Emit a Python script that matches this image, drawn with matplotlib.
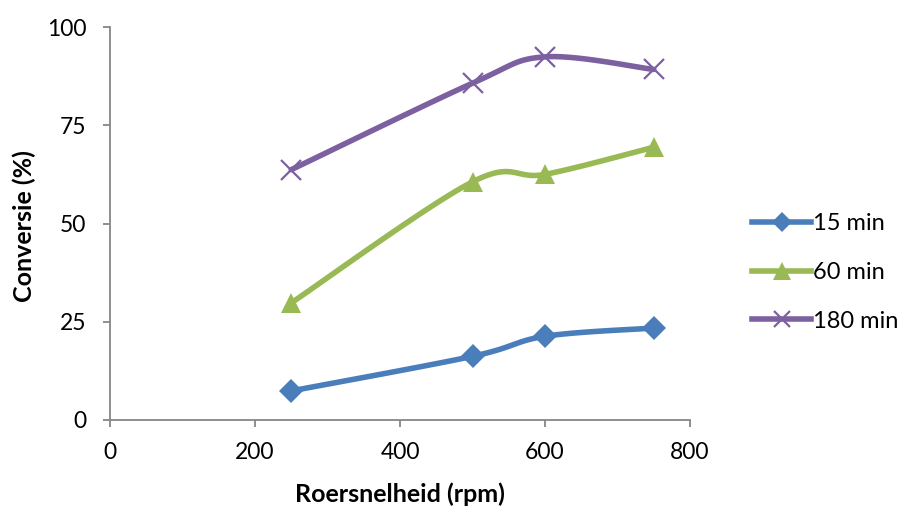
import numpy as np
import matplotlib.pyplot as plt

# Roersnelheid (rpm) en conversie (%) per reactietijd
rpm = [250, 500, 600, 750]
conv_15 = [7.4, 16.2, 21.3, 23.4]
conv_60 = [29.8, 60.6, 62.5, 69.4]
conv_180 = [63.7, 85.7, 92.4, 89.2]

series = [
    ('15 min', conv_15, '#4A7EBB', 'D', 12),
    ('60 min', conv_60, '#98B954', '^', 15),
    ('180 min', conv_180, '#7D60A0', 'x', 14),
]

XMIN, XMAX, YMIN, YMAX = 0, 800, 0, 100
AX_W, AX_H = 580, 393  # plot area in pixels


def smooth(xs, ys, n=40):
    # Catmull-Rom spline through the points, computed in screen-like space
    sx = (XMAX - XMIN) / AX_W
    sy = (YMAX - YMIN) / AX_H
    p = np.column_stack([np.asarray(xs) / sx, np.asarray(ys) / sy])
    p = np.vstack([p[0], p, p[-1]])
    out = []
    for i in range(1, len(p) - 2):
        p0, p1, p2, p3 = p[i - 1], p[i], p[i + 1], p[i + 2]
        c1 = p1 + (p2 - p0) / 6.0
        c2 = p2 - (p3 - p1) / 6.0
        t = np.linspace(0, 1, n)[:, None]
        b = ((1 - t) ** 3) * p1 + 3 * ((1 - t) ** 2) * t * c1 \
            + 3 * (1 - t) * t ** 2 * c2 + t ** 3 * p2
        out.append(b if i == 1 else b[1:])
    out = np.vstack(out)
    return out[:, 0] * sx, out[:, 1] * sy


fig = plt.figure(figsize=(8.98, 5.07), dpi=100)
ax = fig.add_axes([110 / 898, (507 - 420) / 507, AX_W / 898, AX_H / 507])

font = 'Lato'
for label, ys, color, marker, ms in series:
    cx, cy = smooth(rpm, ys)
    ax.plot(cx, cy, color=color, linewidth=4, solid_capstyle='round', zorder=2)
    mew = 1.6 if marker == 'x' else 0
    ax.plot(rpm, ys, linestyle='none', marker=marker, markersize=ms,
            color=color, markeredgewidth=mew, markeredgecolor=color, zorder=3)
    # legend proxy
    ax.plot([], [], color=color, linewidth=4, marker=marker, markersize=ms * 0.85,
            markeredgewidth=mew, markeredgecolor=color, label=label)

ax.set_xlim(XMIN, XMAX)
ax.set_ylim(YMIN, YMAX)
ax.set_xticks([0, 200, 400, 600, 800])
ax.set_yticks([0, 25, 50, 75, 100])

for side in ['top', 'right']:
    ax.spines[side].set_visible(False)
for side in ['left', 'bottom']:
    ax.spines[side].set_color('#868686')
    ax.spines[side].set_linewidth(1.3)
ax.tick_params(axis='both', colors='#868686', length=5, width=1.3,
               labelcolor='black', labelsize=16.5)
ax.tick_params(axis='y', pad=12)
ax.tick_params(axis='x', pad=11)
for t in ax.get_xticklabels() + ax.get_yticklabels():
    t.set_fontfamily(font)

fig.text(400 / 898, 1 - 494 / 507, 'Roersnelheid (rpm)', ha='center', va='center',
         fontsize=18, fontweight='bold', family=font)
fig.text(24 / 898, 1 - 226 / 507, 'Conversie (%)', ha='center', va='center',
         rotation=90, fontsize=18, fontweight='bold', family=font)

leg = fig.legend(loc='upper left', bbox_to_anchor=(752 / 898, 1 - 213 / 507),
                 frameon=False, prop={'family': font, 'size': 17},
                 handlelength=2.5, handletextpad=0.1, labelspacing=1.18,
                 borderpad=0, borderaxespad=0)

fig.savefig('out.png', dpi=100)
